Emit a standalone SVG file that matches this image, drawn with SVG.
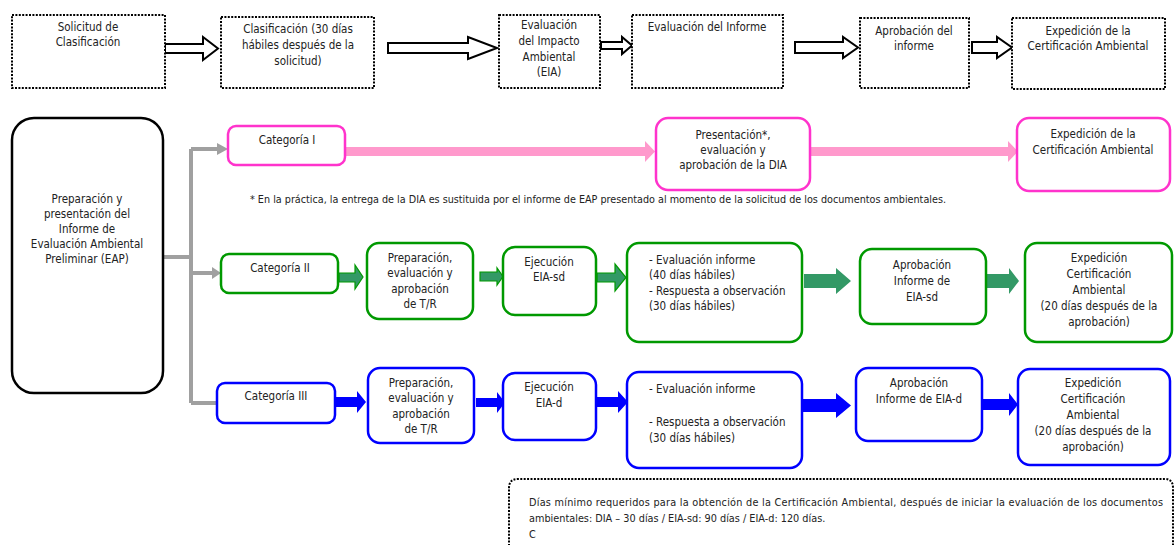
<svg xmlns="http://www.w3.org/2000/svg" width="1174" height="545" viewBox="0 0 1174 545">
<style>
text{font-family:"Liberation Sans Narrow","DejaVu Sans Condensed","Liberation Sans",sans-serif;font-size:11.5px;fill:#222}
.c{text-anchor:middle}
.sm{font-size:10.8px}
.dot{fill:#fff;stroke:#000;stroke-width:2;stroke-dasharray:2 1.4}
.hol{fill:#fff;stroke:#000;stroke-width:2;stroke-linejoin:miter}
.big{fill:#fff;stroke:#000;stroke-width:2.5}
.pk{fill:#fff;stroke:#ff33cc;stroke-width:2.5}
.gr{fill:#fff;stroke:#009900;stroke-width:2.5}
.bl{fill:#fff;stroke:#0000ff;stroke-width:2.5}
.gray{fill:none;stroke:#a0a0a0;stroke-width:4}
.grayh{fill:#a0a0a0}
.pka{fill:#ff99cc}
.gra{fill:#339966;stroke:#009900;stroke-width:1.2}
.gra2{fill:#339966}
.bla{fill:#0000ff}
</style>
<rect width="1174" height="545" fill="#fff"/>

<g id="connectors">
<polygon class="hol" points="165,44 203,44 203,37 218,48.5 203,60 203,53 165,53"/>
<polygon class="hol" points="388,43 468,43 468,37 497,48 468,59 468,53 388,53"/>
<polygon class="hol" points="601,42 622,42 622,37 632,45.5 622,54 622,49 601,49"/>
<polygon class="hol" points="795,42 843,42 843,37 858,47.5 843,58 843,53 795,53"/>
<polygon class="hol" points="972,42 997,42 997,37 1012,47.5 997,58 997,53 972,53"/>
<path class="gray" d="M163,257 H191 M191,149 V403 M191,149 H218 M191,273 H213 M191,403 H217"/>
<polygon class="grayh" points="217,143 228,149 217,155"/>
<polygon class="grayh" points="212,267 221,273 212,279"/>
<polygon class="pka" points="345,147 645,147 645,141 655,151.5 645,162 645,156 345,156"/>
<polygon class="pka" points="810,147 1008,147 1008,141 1018,151.5 1008,162 1008,156 810,156"/>
<polygon class="gra" points="339,273 355,273 355,265 363,277 355,289 355,282 339,282"/>
<polygon class="gra" points="480,272 497,272 497,268 503,276.5 497,285 497,281 480,281"/>
<polygon class="gra" points="597,273 615,273 615,264 626,277.5 615,291 615,282 597,282"/>
<polygon class="gra2" points="804,274 836,274 836,268 851,281 836,294 836,288 804,288"/>
<polygon class="gra2" points="987,274 1009,274 1009,268 1019,281 1009,294 1009,288 987,288"/>
<polygon class="bla" points="336,397 357,397 357,391 366,402 357,413 357,407 336,407"/>
<polygon class="bla" points="476,398 497,398 497,392 505,402.5 497,413 497,407 476,407"/>
<polygon class="bla" points="597,397 618,397 618,391 628,402 618,413 618,407 597,407"/>
<polygon class="bla" points="803,399 836,399 836,393 851,405.5 836,418 836,412 803,412"/>
<polygon class="bla" points="983,399 1009,399 1009,393 1018,404.5 1009,416 1009,410 983,410"/>
</g>

<g id="n-solicitud"><rect class="dot" x="12" y="15" width="153" height="73"/>
<text class="c" x="88" y="31">Solicitud de</text><text class="c" x="88" y="46">Clasificación</text></g>
<g id="n-clasificacion"><rect class="dot" x="221" y="17" width="153" height="71"/>
<text class="c" x="298" y="33">Clasificación (30 días</text><text class="c" x="298" y="49">hábiles después de la</text><text class="c" x="298" y="65">solicitud)</text></g>
<g id="n-eia"><rect class="dot" x="499" y="15" width="101" height="73"/>
<text class="c" x="549" y="29">Evaluación</text><text class="c" x="549" y="45">del Impacto</text><text class="c" x="549" y="61">Ambiental</text><text class="c" x="549" y="76">(EIA)</text></g>
<g id="n-evalinforme"><rect class="dot" x="632" y="15" width="151" height="73"/>
<text class="c" x="707" y="31">Evaluación del Informe</text></g>
<g id="n-aprobinforme"><rect class="dot" x="860" y="18" width="109" height="70"/>
<text class="c" x="914" y="35">Aprobación del</text><text class="c" x="914" y="50">informe</text></g>
<g id="n-expedicion"><rect class="dot" x="1012" y="18" width="153" height="71"/>
<text class="c" x="1088" y="35">Expedición de la</text><text class="c" x="1088" y="50">Certificación Ambiental</text></g>

<g id="n-eap"><rect class="big" x="12" y="118" width="151" height="275" rx="22"/>
<text class="c" x="87" y="203">Preparación y</text><text class="c" x="87" y="218">presentación del</text><text class="c" x="87" y="233">Informe de</text><text class="c" x="87" y="248">Evaluación Ambiental</text><text class="c" x="87" y="263">Preliminar (EAP)</text></g>

<g id="n-cat1"><rect class="pk" x="228" y="126" width="117" height="39" rx="8"/>
<text class="c" x="287" y="144">Categoría I</text></g>
<g id="n-dia"><rect class="pk" x="656" y="118" width="154" height="72" rx="12"/>
<text class="c" x="733" y="139">Presentación*,</text><text class="c" x="733" y="154">evaluación y</text><text class="c" x="733" y="169">aprobación de la DIA</text></g>
<g id="n-cat1-exp"><rect class="pk" x="1017" y="118" width="153" height="73" rx="12"/>
<text class="c" x="1093" y="138">Expedición de la</text><text class="c" x="1093" y="154">Certificación Ambiental</text></g>
<g id="n-footnote"><text class="sm" x="250" y="203" textLength="696" lengthAdjust="spacingAndGlyphs">* En la práctica, la entrega de la DIA es sustituida por el informe de EAP presentado al momento de la solicitud de los documentos ambientales.</text></g>

<g id="n-cat2"><rect class="gr" x="221" y="254" width="117" height="39" rx="8"/>
<text class="c" x="280" y="272">Categoría II</text></g>
<g id="n-cat2-tr"><rect class="gr" x="367" y="243" width="106" height="76" rx="12"/>
<text class="c" x="420" y="262">Preparación,</text><text class="c" x="420" y="277">evaluación y</text><text class="c" x="420" y="293">aprobación</text><text class="c" x="420" y="308">de T/R</text></g>
<g id="n-cat2-ejec"><rect class="gr" x="503" y="247" width="93" height="68" rx="12"/>
<text class="c" x="549" y="266">Ejecución</text><text class="c" x="549" y="281">EIA-sd</text></g>
<g id="n-cat2-eval"><rect class="gr" x="627" y="243" width="175" height="99" rx="12"/>
<text x="649" y="264">- Evaluación informe</text><text x="649" y="279">(40 días hábiles)</text><text x="649" y="295">- Respuesta a observación</text><text x="649" y="310">(30 días hábiles)</text></g>
<g id="n-cat2-aprob"><rect class="gr" x="860" y="249" width="126" height="75" rx="12"/>
<text class="c" x="922" y="269">Aprobación</text><text class="c" x="922" y="285">Informe de</text><text class="c" x="922" y="301">EIA-sd</text></g>
<g id="n-cat2-exp"><rect class="gr" x="1025" y="243" width="147" height="99" rx="12"/>
<text class="c" x="1099" y="262">Expedición</text><text class="c" x="1099" y="278">Certificación</text><text class="c" x="1099" y="294">Ambiental</text><text class="c" x="1099" y="310">(20 días después de la</text><text class="c" x="1099" y="326">aprobación)</text></g>

<g id="n-cat3"><rect class="bl" x="217" y="383" width="118" height="40" rx="8"/>
<text class="c" x="276" y="400">Categoría III</text></g>
<g id="n-cat3-tr"><rect class="bl" x="368" y="368" width="106" height="75" rx="12"/>
<text class="c" x="421" y="387">Preparación,</text><text class="c" x="421" y="402">evaluación y</text><text class="c" x="421" y="418">aprobación</text><text class="c" x="421" y="433">de T/R</text></g>
<g id="n-cat3-ejec"><rect class="bl" x="503" y="373" width="93" height="67" rx="12"/>
<text class="c" x="549" y="391">Ejecución</text><text class="c" x="549" y="407">EIA-d</text></g>
<g id="n-cat3-eval"><rect class="bl" x="627" y="372" width="175" height="96" rx="12"/>
<text x="649" y="393">- Evaluación informe</text><text x="649" y="426">- Respuesta a observación</text><text x="649" y="442">(30 días hábiles)</text></g>
<g id="n-cat3-aprob"><rect class="bl" x="856" y="368" width="126" height="73" rx="12"/>
<text class="c" x="919" y="387">Aprobación</text><text class="c" x="919" y="403">Informe de EIA-d</text></g>
<g id="n-cat3-exp"><rect class="bl" x="1018" y="369" width="152" height="96" rx="12"/>
<text class="c" x="1093" y="387">Expedición</text><text class="c" x="1093" y="403">Certificación</text><text class="c" x="1093" y="419">Ambiental</text><text class="c" x="1093" y="435">(20 días después de la</text><text class="c" x="1093" y="451">aprobación)</text></g>

<g id="n-note"><path class="dot" d="M509,546 V488 Q509,479 518,479 H1165 Q1173,479 1173,488 V546"/>
<text class="sm" x="529" y="506" textLength="634" lengthAdjust="spacing">Días mínimo requeridos para la obtención de la Certificación Ambiental, después de iniciar la evaluación de los documentos</text>
<text class="sm" x="529" y="522">ambientales: DIA – 30 días / EIA-sd: 90 días / EIA-d: 120 días.</text>
<text class="sm" x="529" y="538">C</text></g>
</svg>
